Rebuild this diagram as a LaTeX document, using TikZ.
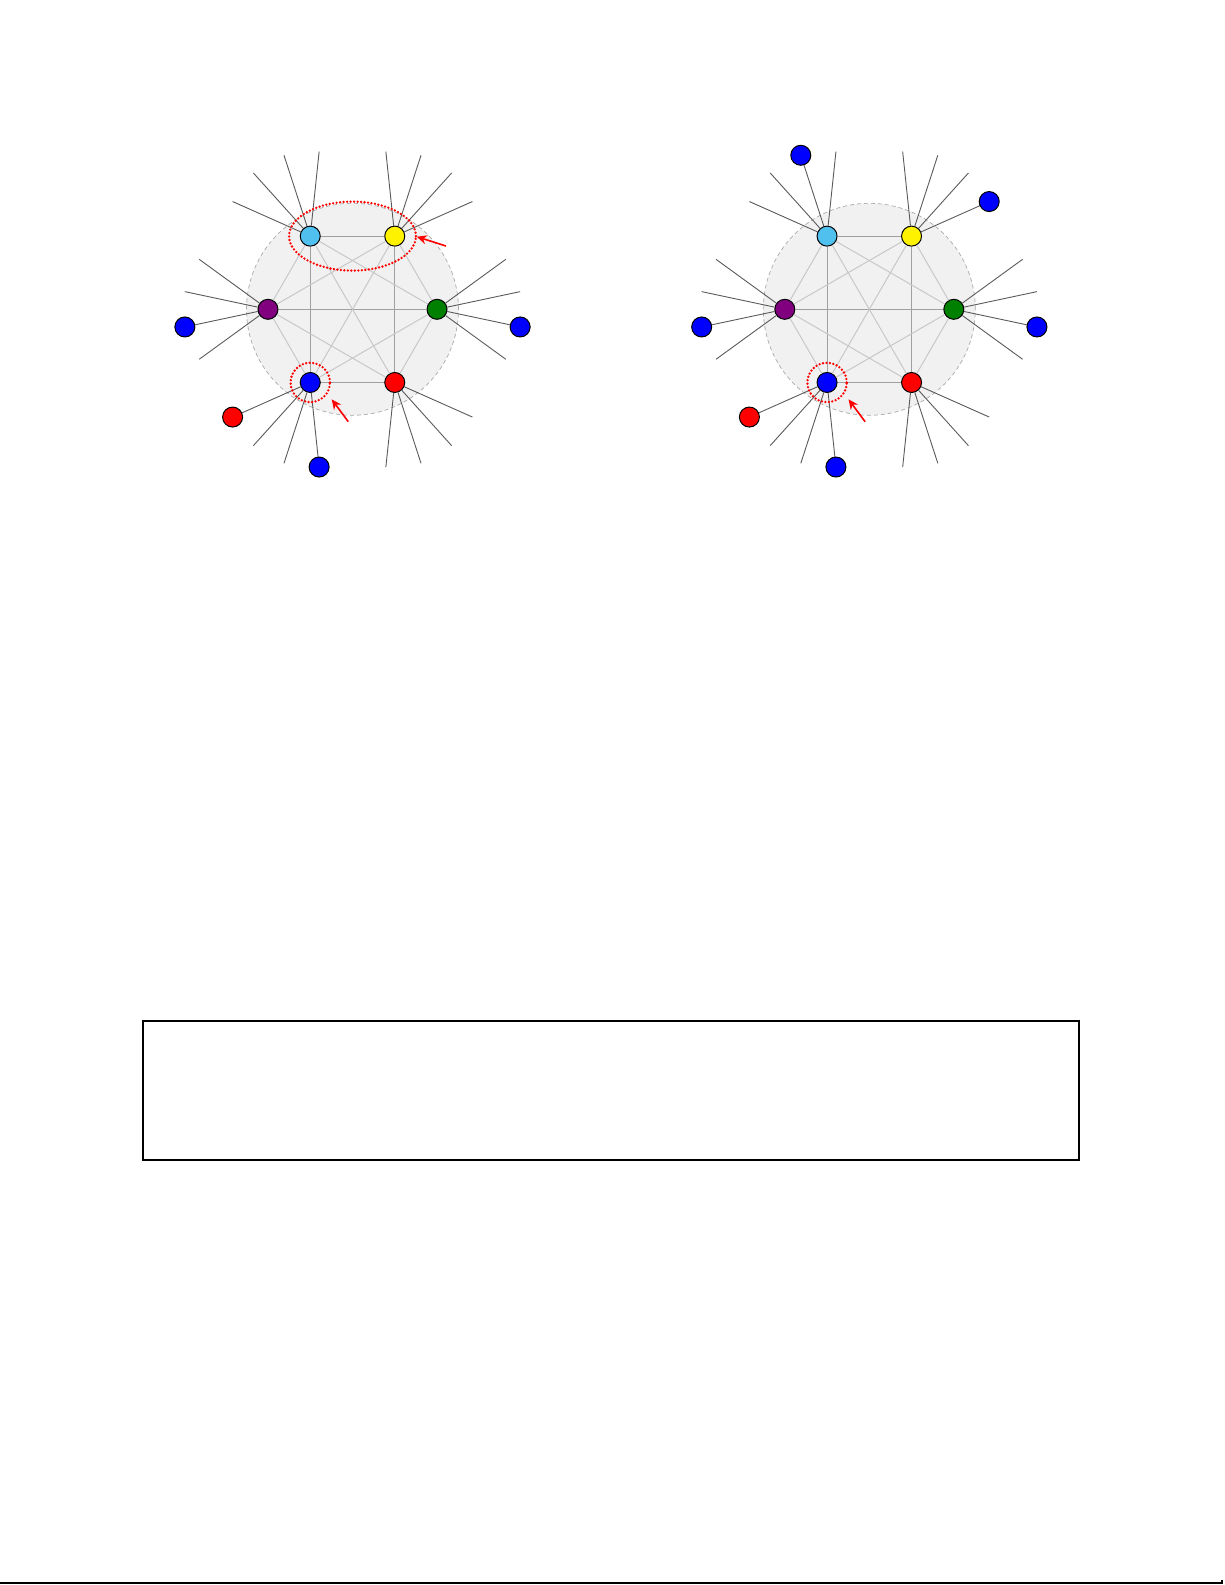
\documentclass[tikz,border=0pt]{standalone}
\usetikzlibrary{arrows.meta,calc}
\definecolor{nodecyan}{RGB}{80,192,238}
\definecolor{nodeyellow}{RGB}{255,242,0}
\definecolor{nodepurple}{RGB}{128,0,128}
\definecolor{nodegreen}{RGB}{0,128,0}
\definecolor{nodeblue}{RGB}{0,0,255}
\definecolor{nodered}{RGB}{255,0,0}
\definecolor{circfill}{RGB}{241,241,241}
\definecolor{circline}{RGB}{170,170,170}
\definecolor{edgedark}{RGB}{160,160,160}
\definecolor{edgelight}{RGB}{200,200,200}
\definecolor{spokegray}{RGB}{90,90,90}
\begin{document}
\begin{tikzpicture}[x=0.5pt,y=-0.5pt,
  vtx/.style={circle,draw=black,line width=0.5pt,minimum size=10pt,inner sep=0pt},
  spoke/.style={draw=spokegray,line width=0.45pt},
  edgeA/.style={draw=edgedark,line width=0.55pt},
  edgeB/.style={draw=edgelight,line width=0.5pt},
  hl/.style={draw=nodered,line width=1.3pt,line cap=round,dash pattern=on 0pt off 1.75pt},
  pointer/.style={draw=nodered,line width=0.8pt,-{Stealth[length=5pt,width=4.5pt]}},
  hub/.style={fill=circfill,draw=circline,line width=0.35pt,dash pattern=on 2pt off 1.5pt}
]
\useasboundingbox (0,0) rectangle (1225,1585);

% ---------- left graph ----------
\begin{scope}[shift={(352.5,309.3)},name prefix=L-]
  \path[hub] (0,0) circle[radius=53pt];
  \foreach \n/\a/\c in {gr/0/nodegreen,ye/60/nodeyellow,cy/120/nodecyan,pu/180/nodepurple,bl/240/nodeblue,rd/300/nodered}{
    \node[vtx,fill=\c] (\n) at (\a:42.25pt) {};
  }
  \foreach \a/\b in {cy/ye,cy/bl,ye/rd,pu/gr,bl/rd}
    \draw[edgeA] (\a) -- (\b);
  \foreach \a/\b in {cy/pu,cy/gr,cy/rd,ye/pu,ye/gr,ye/bl,pu/bl,pu/rd,gr/bl,gr/rd}
    \draw[edgeB] (\a) -- (\b);
  \foreach \n/\a in {gr/0,ye/60,cy/120,pu/180,bl/240,rd/300}{
    \foreach \o/\i in {-36/1,-12/2,12/3,36/4}{
      \coordinate (\n-s\i) at ([shift={({\a+(\o)}:42.5pt)}]\n.center);
      \draw[spoke] (\n) -- (\n-s\i);
    }
  }
  \node[vtx,fill=nodeblue] (b1) at (pu-s3) {};
  \node[vtx,fill=nodeblue] (b2) at (gr-s2) {};
  \node[vtx,fill=nodered]  (b3) at (bl-s1) {};
  \node[vtx,fill=nodeblue] (b4) at (bl-s4) {};
  \draw[hl] ($(cy)!0.5!(ye)$) ellipse[x radius=31.7pt,y radius=17.25pt];
  \draw[hl] (bl) circle[radius=9.85pt];
  \coordinate (p1s) at (93.5,-63.3);
  \coordinate (p1e) at (64.2,-72.6);
  \draw[pointer] (p1s) -- (p1e);
  \coordinate (p2s) at (-4.2,112.4);
  \coordinate (p2e) at (-20.8,90);
  \draw[pointer] (p2s) -- (p2e);
\end{scope}

% ---------- right graph ----------
\begin{scope}[shift={(869.3,309.3)},name prefix=R-]
  \path[hub] (0,0) circle[radius=53pt];
  \foreach \n/\a/\c in {gr/0/nodegreen,ye/60/nodeyellow,cy/120/nodecyan,pu/180/nodepurple,bl/240/nodeblue,rd/300/nodered}{
    \node[vtx,fill=\c] (\n) at (\a:42.25pt) {};
  }
  \foreach \a/\b in {cy/ye,cy/bl,ye/rd,pu/gr,bl/rd}
    \draw[edgeA] (\a) -- (\b);
  \foreach \a/\b in {cy/pu,cy/gr,cy/rd,ye/pu,ye/gr,ye/bl,pu/bl,pu/rd,gr/bl,gr/rd}
    \draw[edgeB] (\a) -- (\b);
  \foreach \n/\a in {gr/0,ye/60,cy/120,pu/180,bl/240,rd/300}{
    \foreach \o/\i in {-36/1,-12/2,12/3,36/4}{
      \coordinate (\n-s\i) at ([shift={({\a+(\o)}:42.5pt)}]\n.center);
      \draw[spoke] (\n) -- (\n-s\i);
    }
  }
  \node[vtx,fill=nodeblue] (b1) at (pu-s3) {};
  \node[vtx,fill=nodeblue] (b2) at (gr-s2) {};
  \node[vtx,fill=nodered]  (b3) at (bl-s1) {};
  \node[vtx,fill=nodeblue] (b4) at (bl-s4) {};
  \node[vtx,fill=nodeblue] (b5) at (cy-s2) {};
  \node[vtx,fill=nodeblue] (b6) at (ye-s1) {};
  \draw[hl] (bl) circle[radius=9.85pt];
  \coordinate (p2s) at (-4.2,112.4);
  \coordinate (p2e) at (-20.8,90);
  \draw[pointer] (p2s) -- (p2e);
\end{scope}

% ---------- empty frame ----------
\node[draw=black,line width=1.25pt,minimum width=468pt,minimum height=69.5pt,inner sep=0pt] (panel) at (611,1090.5) {};

% ---------- bottom rule ----------
\coordinate (ruleA) at (0,1583);
\coordinate (ruleB) at (1222,1583);
\coordinate (ruleC) at (1222,1579.5);
\draw[line width=1pt] (ruleA) -- (ruleB) -- (ruleC);
\end{tikzpicture}
\end{document}
